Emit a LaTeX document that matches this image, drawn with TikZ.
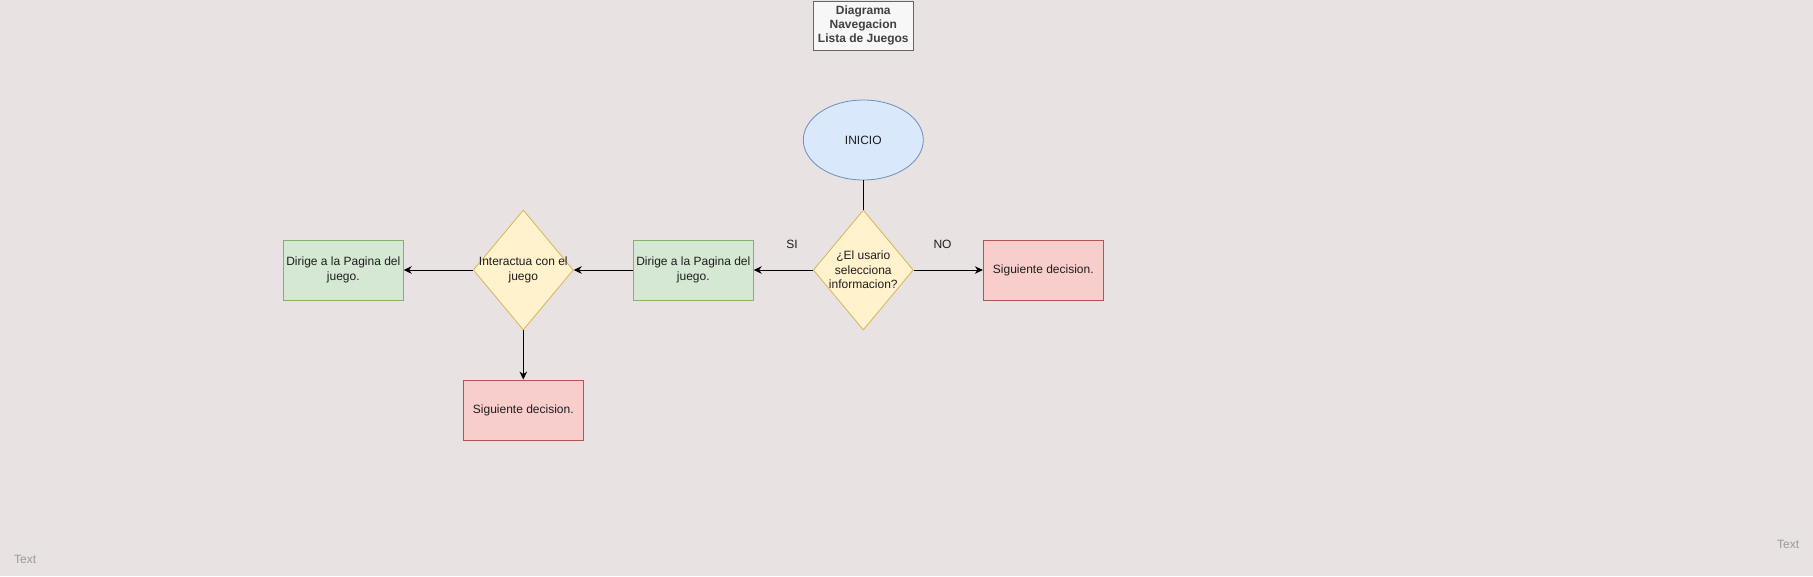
\documentclass[tikz,border=0pt]{standalone}
\usepackage{fontspec}
\setmainfont{Liberation Sans}
\usetikzlibrary{shapes.geometric,arrows.meta}
\definecolor{bgc}{HTML}{E8E2E2}
\definecolor{bluef}{HTML}{DAE8FC}\definecolor{blues}{HTML}{6C8EBF}
\definecolor{yelf}{HTML}{FFF2CC}\definecolor{yels}{HTML}{D6B656}
\definecolor{grnf}{HTML}{D5E8D4}\definecolor{grns}{HTML}{82B366}
\definecolor{redf}{HTML}{F8CECC}\definecolor{reds}{HTML}{B85450}
\definecolor{txt}{HTML}{1E1E1E}
\definecolor{ghost}{HTML}{9A9A9A}
\tikzset{
  base/.style={font=\fontsize{12}{14.3}\selectfont, text=txt, align=center, inner sep=0pt, line width=0.8pt},
  greenbox/.style={base, rectangle, draw=grns, fill=grnf, minimum width=120pt, minimum height=60pt},
  redbox/.style={base, rectangle, draw=reds, fill=redf, minimum width=120pt, minimum height=60pt},
  decis/.style={base, diamond, draw=yels, fill=yelf, minimum width=100pt, minimum height=120pt},
  startnode/.style={base, ellipse, draw=blues, fill=bluef, minimum width=120pt, minimum height=80pt},
  plain/.style={base},
  titlebox/.style={base, rectangle, draw=black!60, fill=white!97!black, minimum width=100pt, minimum height=49pt, font=\fontsize{12}{14.3}\selectfont\bfseries, text=txt!85!white},
  ghosttext/.style={font=\fontsize{12}{14}\selectfont, text=ghost, inner sep=0pt},
  conn/.style={line width=1pt, black, -{Stealth[length=8pt,width=7.5pt,inset=2.5pt]}},
  line/.style={line width=1pt, black}
}
\begin{document}
\begin{tikzpicture}[x=1pt,y=-1pt]
\useasboundingbox[fill=bgc] (0,0) rectangle (1813,576);
\node[titlebox] (title) at (863.3,25.4) {Diagrama\\Navegacion\\Lista de Juegos};
\node[startnode] (inicio) at (863.3,140) {INICIO};
\node[decis] (d1) at (863.3,270) {};
\node[plain] (d1t) at (863.3,270) {¿El usario\\selecciona\\informacion?};
\node[redbox] (no1) at (1043.3,270) {Siguiente decision.};
\node[greenbox] (g1) at (693.3,270) {Dirige a la Pagina del\\juego.};
\node[decis] (d2) at (523.3,270) {};
\node[plain] (d2t) at (523.3,270) {Interactua con el\\juego};
\node[greenbox] (g2) at (343.3,270) {Dirige a la Pagina del\\juego.};
\node[redbox] (no2) at (523.3,410) {Siguiente decision.};
\node[plain] (si) at (792,244) {SI};
\node[plain] (nol) at (942.5,244) {NO};
\node[ghosttext, anchor=west] (t1) at (14,559) {Text};
\node[ghosttext, anchor=west] (t2) at (1777,544) {Text};
\draw[line] (inicio.south) -- (d1.north);
\draw[conn] (d1.west) -- (g1.east);
\draw[conn] (d1.east) -- (no1.west);
\draw[conn] (g1.west) -- (d2.east);
\draw[conn] (d2.west) -- (g2.east);
\draw[conn] (d2.south) -- (no2.north);
\end{tikzpicture}
\end{document}
